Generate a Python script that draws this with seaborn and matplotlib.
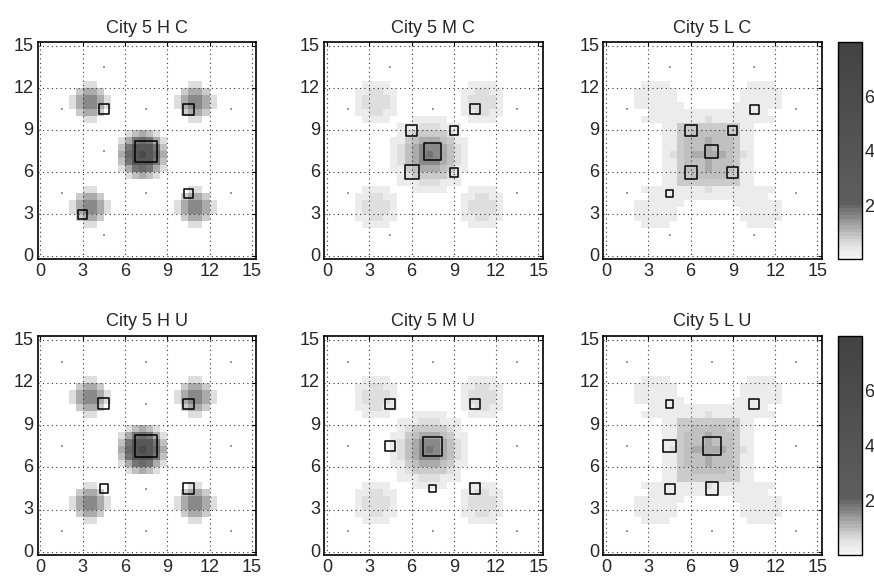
import numpy as np
import matplotlib
matplotlib.use("Agg")
import matplotlib.pyplot as plt
import seaborn as sns
from matplotlib.colors import LinearSegmentedColormap

sns.set_style("white")
plt.rcParams['font.family'] = ['Liberation Sans', 'DejaVu Sans']

# panel titles, row by row
titles = ["City 5 H C", "City 5 M C", "City 5 L C",
          "City 5 H U", "City 5 M U", "City 5 L U"]

# grey level codes used in the maps below ('.' = empty cell)
codes = ".123456789ab"
code_values = [np.nan, 0.30, 0.55, 0.75, 0.95, 1.15, 1.35, 1.55, 1.75, 1.9, 3.5, 6.0]

# 30 x 30 cells of 0.5, top row first (y from 15 down to 0)
map_H = [
    "..............................",
    "..............................",
    "..............................",
    "..............................",
    "..............................",
    "......22.............22.......",
    ".....3553...........3553......",
    "....257752.........257752.....",
    "....257752.........257752.....",
    ".....3553...........3553......",
    "......22.............22.......",
    "..............................",
    "............24542.............",
    "...........2589852............",
    "...........48aaa84............",
    "...........59aba95............",
    "...........48aaa84............",
    "...........2589852............",
    "............24542.............",
    "..............................",
    "......22.............22.......",
    ".....3553...........3553......",
    "....257752.........257752.....",
    "....257752.........257752.....",
    ".....3553...........3553......",
    "......22.............22.......",
    "..............................",
    "..............................",
    "..............................",
    "..............................",
]

map_M = [
    "..............................",
    "..............................",
    "..............................",
    "..............................",
    "..............................",
    ".....1111...........1111......",
    "....112211.........112211.....",
    "....122221.........122221.....",
    "....122221.........122221.....",
    "....112211.........112211.....",
    ".....1111...11111...1111......",
    "..........111222111...........",
    "..........123333321...........",
    ".........11345554311..........",
    ".........12457775421..........",
    ".........12457875421..........",
    ".........12457775421..........",
    ".........11345554311..........",
    "..........123333321...........",
    "..........111222111...........",
    ".....1111...11111...1111......",
    "....112211.........112211.....",
    "....122221.........122221.....",
    "....122221.........122221.....",
    "....112211.........112211.....",
    ".....1111...........1111......",
    "..............................",
    "..............................",
    "..............................",
    "..............................",
]

map_L = [
    "..............................",
    "..............................",
    "..............................",
    "..............................",
    "..............................",
    ".....1111...........1111......",
    "....111111.........111111.....",
    "....111111.........111111.....",
    "....1111111.......1111111.....",
    "......11111111111111111.......",
    ".....1111111112111111111......",
    "........1133333333311.........",
    "........1133444443311.........",
    "........1134445444311.........",
    "........1134445444311.........",
    "........1234555554321.........",
    "........1134445444311.........",
    "........1134445444311.........",
    "........1133444443311.........",
    "........1133333333311.........",
    ".....1111111112111111111......",
    "......11111111111111111.......",
    "....1111111.......1111111.....",
    "....111111.........111111.....",
    "....111111.........111111.....",
    ".....1111...........1111......",
    "..............................",
    "..............................",
    "..............................",
    "..............................",
]

panel_maps = [map_H, map_M, map_L, map_H, map_M, map_L]

# facility squares: x, y, side in pixels
sites_x = [
    [4.5, 10.5, 7.5, 3.0, 10.5],
    [10.5, 6.0, 9.0, 7.5, 6.0, 9.0],
    [10.5, 6.0, 9.0, 7.5, 6.0, 9.0, 4.5],
    [4.5, 10.5, 7.5, 4.5, 10.5],
    [4.5, 10.5, 4.5, 7.5, 7.5, 10.5],
    [4.5, 10.5, 4.5, 7.5, 4.5, 7.5],
]
sites_y = [
    [10.5, 10.5, 7.5, 3.0, 4.5],
    [10.5, 9.0, 9.0, 7.5, 6.0, 6.0],
    [10.5, 9.0, 9.0, 7.5, 6.0, 6.0, 4.5],
    [10.5, 10.5, 7.5, 4.5, 4.5],
    [10.5, 10.5, 7.5, 7.5, 4.5, 4.5],
    [10.5, 10.5, 7.5, 7.5, 4.5, 4.5],
]
sites_px = [
    [10, 10.7, 21.3, 9.3, 9],
    [10, 11.7, 8.3, 16.7, 14, 8.3],
    [9, 11.7, 9, 12.7, 12.3, 11, 7.7],
    [11, 10.7, 21.7, 8.3, 10.7],
    [10, 10.7, 10, 19.3, 7.3, 10.7],
    [7.7, 9.7, 12.3, 17.7, 10, 12.3],
]

# tiny marks of empty sites
dots_x = [
    [4.5, 1.5, 7.5, 13.5, 4.5, 1.5, 7.5, 13.5, 4.5],
    [4.5, 1.5, 7.5, 13.5, 1.5, 13.5, 4.5],
    [4.5, 10.5, 1.5, 13.5, 1.5, 13.5, 4.5, 10.5],
    [1.5, 7.5, 13.5, 7.5, 1.5, 13.5, 7.5, 1.5, 7.5, 13.5],
    [1.5, 7.5, 13.5, 1.5, 13.5, 1.5, 7.5, 13.5],
    [1.5, 7.5, 13.5, 1.5, 13.5, 1.5, 7.5, 13.5],
]
dots_y = [
    [13.5, 10.5, 10.5, 10.5, 7.5, 4.5, 4.5, 4.5, 1.5],
    [13.5, 10.5, 10.5, 10.5, 4.5, 4.5, 1.5],
    [13.5, 13.5, 10.5, 10.5, 4.5, 4.5, 1.5, 1.5],
    [13.5, 13.5, 13.5, 10.5, 7.5, 7.5, 4.5, 1.5, 1.5, 1.5],
    [13.5, 13.5, 13.5, 7.5, 7.5, 1.5, 1.5, 1.5],
    [13.5, 13.5, 13.5, 7.5, 7.5, 1.5, 1.5, 1.5],
]

ticks = [0, 3, 6, 9, 12, 15]
cbar_ticks = [2, 4, 6]

# grey colormap, most of its steps below 2
grey_steps = [(0, .96), (0.30, .92), (0.55, .86), (0.75, .80), (0.95, .73), (1.15, .67),
              (1.35, .60), (1.55, .53), (1.75, .47), (1.9, .42), (2.0, .37), (8.0, .26)]
vmax = 8.0
cmap = LinearSegmentedColormap.from_list(
    "cgrey", [(v / vmax, (g, g, g)) for v, g in grey_steps], N=64)

fig = plt.figure(figsize=(8.74, 5.79), dpi=100)
lefts = [0.0431, 0.371, 0.6903]
bottoms = [0.5522, 0.0415]
heights = [0.3748, 0.378]
w = 0.2498

lookup = dict(zip(codes, code_values))

for k in range(6):
    row, col = divmod(k, 3)
    ax = fig.add_axes([lefts[col], bottoms[row], w, heights[row]])
    grid = np.array([[lookup[ch] for ch in line] for line in panel_maps[k]])

    if col == 2:
        cax = fig.add_axes([0.9592, bottoms[row], 0.0268, heights[row]])
        sns.heatmap(grid, ax=ax, cmap=cmap, vmin=0, vmax=vmax, cbar=True,
                    cbar_ax=cax, cbar_kws={"ticks": cbar_ticks})
        cax.tick_params(direction="in", length=3, left=True, right=True,
                        labelsize=13, pad=2)
        cax.set_yticklabels([str(t) for t in cbar_ticks])
        cb = ax.collections[0].colorbar
        cb.outline.set_visible(True)
        cb.outline.set_edgecolor("black")
        cb.outline.set_linewidth(1.0)
    else:
        sns.heatmap(grid, ax=ax, cmap=cmap, vmin=0, vmax=vmax, cbar=False)

    # heatmap units: 2 cells per unit, y counted from the top
    hx = [2 * x for x in sites_x[k]]
    hy = [30 - 2 * y for y in sites_y[k]]
    sizes = [(p * 0.72) ** 2 for p in sites_px[k]]
    ax.scatter(hx, hy, s=sizes, marker="s", facecolors="none",
               edgecolors="black", linewidths=1.1, zorder=4)
    ax.scatter([2 * x for x in dots_x[k]], [30 - 2 * y for y in dots_y[k]],
               s=1.2, marker="s", color="#9a9a9a", linewidths=0, zorder=3)

    ax.set_xlim(-0.4, 30.6)
    ax.set_ylim(30.4, -0.6)
    ax.set_xticks([2 * t for t in ticks])
    ax.set_xticklabels([str(t) for t in ticks], rotation=0)
    ax.set_yticks([30 - 2 * t for t in ticks])
    ax.set_yticklabels([str(t) for t in ticks], rotation=0)
    ax.tick_params(direction="in", length=3, top=True, right=True,
                   labelsize=13, pad=3, color="black")
    ax.grid(True, linestyle=(0, (1, 3)), color="#333333", linewidth=0.8)
    ax.set_axisbelow(False)
    for s in ax.spines.values():
        s.set_visible(True)
        s.set_color("black")
        s.set_linewidth(1.2)
    ax.set_title(titles[k], fontsize=13, pad=7)

fig.savefig("out.png", dpi=100)
